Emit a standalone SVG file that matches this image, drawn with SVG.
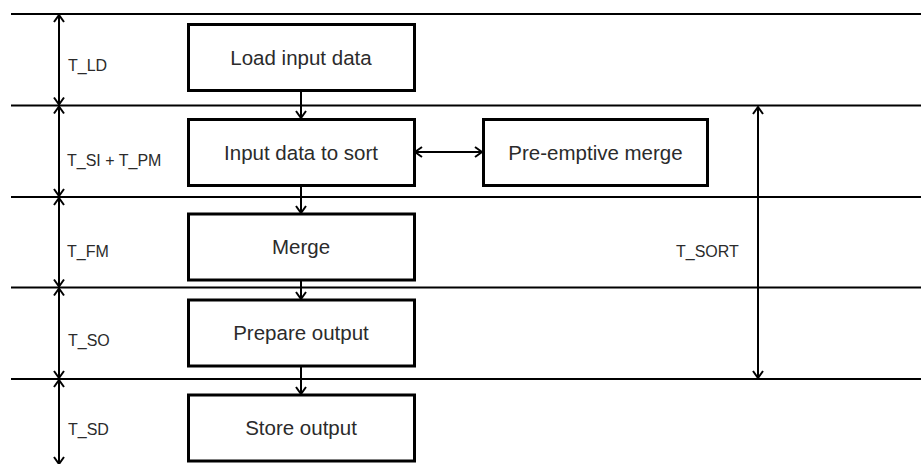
<svg xmlns="http://www.w3.org/2000/svg" width="921" height="464" viewBox="0 0 921 464">
<style>
.bg{fill:#ffffff}
.sep{stroke:#000;stroke-width:2;fill:none}
.box{fill:#fff;stroke:#000;stroke-width:3}
.con{stroke:#000;stroke-width:2;fill:none}
.t{font-family:"Liberation Sans",Arial,sans-serif;font-size:20.5px;fill:#2b2b2b;text-anchor:middle}
.lbl{font-family:"Liberation Sans",Arial,sans-serif;font-size:16px;fill:#2b2b2b}
</style>
<defs>
<marker id="ah" viewBox="0 0 12 12" refX="11" refY="6" markerWidth="12" markerHeight="12" markerUnits="userSpaceOnUse" orient="auto-start-reverse">
<path d="M4,1 L11,6 L4,11" fill="none" stroke="#000" stroke-width="2"/>
</marker>
</defs>
<rect class="bg" x="0" y="0" width="921" height="464"/>
<g id="separators">
<line class="sep" x1="11" y1="14" x2="921" y2="14"/>
<line class="sep" x1="11" y1="105.5" x2="921" y2="105.5"/>
<line class="sep" x1="11" y1="197" x2="921" y2="197"/>
<line class="sep" x1="11" y1="287.5" x2="921" y2="287.5"/>
<line class="sep" x1="11" y1="379" x2="921" y2="379"/>
</g>
<g id="connectors">
<line class="con" x1="301" y1="90" x2="301" y2="118" marker-end="url(#ah)"/>
<line class="con" x1="301" y1="186" x2="301" y2="213" marker-end="url(#ah)"/>
<line class="con" x1="301" y1="280" x2="301" y2="299" marker-end="url(#ah)"/>
<line class="con" x1="301" y1="366" x2="301" y2="394" marker-end="url(#ah)"/>
<line class="con" x1="415" y1="152" x2="482" y2="152" marker-start="url(#ah)" marker-end="url(#ah)"/>
<line class="con" x1="59" y1="15" x2="59" y2="104.5" marker-start="url(#ah)" marker-end="url(#ah)"/>
<line class="con" x1="59" y1="106.5" x2="59" y2="196" marker-start="url(#ah)" marker-end="url(#ah)"/>
<line class="con" x1="59" y1="198" x2="59" y2="286.5" marker-start="url(#ah)" marker-end="url(#ah)"/>
<line class="con" x1="59" y1="288.5" x2="59" y2="378" marker-start="url(#ah)" marker-end="url(#ah)"/>
<line class="con" x1="59" y1="380" x2="59" y2="464" marker-start="url(#ah)" marker-end="url(#ah)"/>
<line class="con" x1="758" y1="107" x2="758" y2="378" marker-start="url(#ah)" marker-end="url(#ah)"/>
</g>
<g id="labels">
<text class="lbl" x="68" y="71">T_LD</text>
<text class="lbl" x="67" y="166">T_SI + T_PM</text>
<text class="lbl" x="67" y="257">T_FM</text>
<text class="lbl" x="68" y="346">T_SO</text>
<text class="lbl" x="68" y="435">T_SD</text>
<text class="lbl" x="676" y="257">T_SORT</text>
</g>
<g id="load">
<rect class="box" x="188.5" y="24.5" width="226" height="66"/>
<text class="t" x="301" y="64.5">Load input data</text>
</g>
<g id="input">
<rect class="box" x="188.5" y="119.5" width="226" height="66"/>
<text class="t" x="301" y="160">Input data to sort</text>
</g>
<g id="preemptive">
<rect class="box" x="483.5" y="119.5" width="224" height="66"/>
<text class="t" x="595.5" y="160">Pre-emptive merge</text>
</g>
<g id="merge">
<rect class="box" x="188.5" y="214" width="226" height="66"/>
<text class="t" x="301" y="254">Merge</text>
</g>
<g id="prepare">
<rect class="box" x="188.5" y="300" width="226" height="66"/>
<text class="t" x="301" y="340">Prepare output</text>
</g>
<g id="store">
<rect class="box" x="188.5" y="395" width="226" height="66"/>
<text class="t" x="301" y="435">Store output</text>
</g>
</svg>
